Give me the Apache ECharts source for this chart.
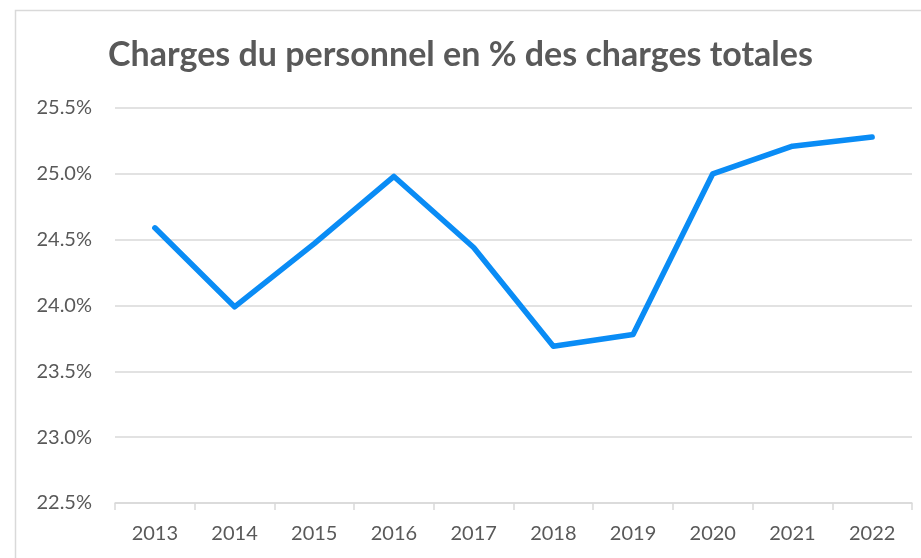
<!DOCTYPE html>
<html>
<head>
<meta charset="utf-8">
<script src="https://cdn.jsdelivr.net/npm/echarts@6/dist/echarts.min.js"></script>
<style>
html,body{margin:0;padding:0;background:#fff;}
#chart{width:921px;height:558px;}
</style>
</head>
<body>
<div id="chart"></div>
<script>
var years = ['2013','2014','2015','2016','2017','2018','2019','2020','2021','2022'];
var ratios = [24.59, 23.99, 24.47, 24.98, 24.44, 23.69, 23.78, 25.00, 25.21, 25.28];
var titleText = 'Charges du personnel en % des charges totales';

var chart = echarts.init(document.getElementById('chart'));
chart.setOption({
	backgroundColor:'#fff',
	animation:false,
	title:{
		text:titleText,
		left:'center',
		top:33,
		textStyle:{
			color:'#595959',
			fontSize:34,
			fontWeight:'bold',
			fontFamily:'Lato'
		}
	},
	//frame of the chart area
	graphic:[{
		type:'rect',
		shape:{x:15.5,y:10.5,width:1000,height:1000},
		style:{fill:null,stroke:'#d9d9d9',lineWidth:1.5},
		silent:true
	}],
	grid:{left:115,right:9,top:108,bottom:55},
	xAxis:{
		type:'category',
		data:years,
		axisLine:{lineStyle:{color:'#d9d9d9',width:1.5}},
		axisTick:{show:true,length:7,lineStyle:{color:'#d9d9d9',width:1.5}},
		axisLabel:{color:'#595959',fontSize:20,fontFamily:'Lato',margin:21}
	},
	yAxis:{
		type:'value',
		min:22.5,
		max:25.5,
		interval:0.5,
		axisLine:{show:false},
		axisTick:{show:false},
		splitLine:{lineStyle:{color:'#d9d9d9',width:1.5}},
		axisLabel:{
			color:'#595959',fontSize:20,fontFamily:'Lato',margin:23,
			formatter:function(v){return v.toFixed(1)+'%';}
		}
	},
	series:[{
		type:'line',
		data:ratios,
		symbol:'none',
		lineStyle:{color:'#0a8cf5',width:5.5,cap:'round',join:'round'}
	}]
});
</script>
</body>
</html>
